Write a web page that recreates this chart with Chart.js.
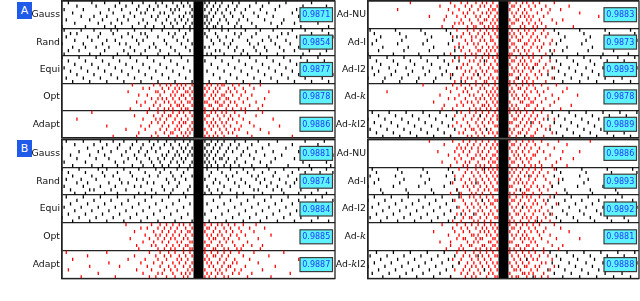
<!DOCTYPE html>
<html><head><meta charset="utf-8">
<script src="https://cdn.jsdelivr.net/npm/chart.js@4"></script>
<style>
html,body{margin:0;padding:0;background:#fff;width:640px;height:301px;overflow:hidden;position:relative}
.box{position:absolute}
.badge{position:absolute;width:15px;height:17px;background:#1f5ae8;color:#fff;font:11px "DejaVu Sans",sans-serif;text-align:center;line-height:17px;z-index:5}
</style></head><body>
<div class="box" style="left:0;top:0;width:336px;height:139px"><canvas id="aL"></canvas></div>
<div class="box" style="left:334px;top:0;width:306px;height:139px"><canvas id="aR"></canvas></div>
<div class="box" style="left:0;top:138px;width:336px;height:142px"><canvas id="bL"></canvas></div>
<div class="box" style="left:334px;top:138px;width:306px;height:142px"><canvas id="bR"></canvas></div>
<div class="badge" style="left:17px;top:2px">A</div>
<div class="badge" style="left:17px;top:140px">B</div>
<script>
// ---- labels and values ----
const leftLabels = ['Gauss','Rand','Equi','Opt','Adapt'];
const rightLabels = ['Ad-NU','Ad-I','Ad-I2','Ad-k','Ad-kI2'];
const valuesAL = ['0.9871','0.9854','0.9877','0.9878','0.9886'];
const valuesAR = ['0.9883','0.9873','0.9893','0.9878','0.9889'];
const valuesBL = ['0.9881','0.9874','0.9884','0.9885','0.9887'];
const valuesBR = ['0.9886','0.9893','0.9892','0.9881','0.9888'];
const FRAMES = 8;
const K_MIN = -64, K_MAX = 64;

// ---- sampled lines (k index) per frame ----
const A_gauss = [
[-61,-50,-44,-37,-31,-26,-20,-17,-12,-8,-5,3,5,8,11,16,19,27,33,41,53],
[-57,-48,-39,-34,-28,-23,-19,-15,-10,-7,-4,4,7,10,14,18,24,30,38,49,60],
[-63,-54,-42,-36,-29,-24,-21,-13,-11,-9,-3,3,6,9,13,17,22,29,36,46,57],
[-59,-46,-40,-32,-27,-25,-18,-16,-12,-6,-4,5,8,11,15,20,26,32,44,52],
[-55,-49,-43,-35,-30,-22,-19,-14,-9,-7,-3,3,4,7,12,16,21,28,35,47,62],
[-62,-51,-45,-38,-33,-26,-20,-15,-11,-8,-5,4,6,10,13,19,23,31,40,50,58],
[-58,-47,-41,-36,-28,-24,-17,-13,-10,-6,-3,3,5,9,14,18,25,34,39,45,56],
[-64,-53,-44,-39,-31,-25,-21,-16,-12,-7,-4,4,7,8,11,17,20,27,37,48,61]];
const A_rand = [
[-63,-55,-49,-41,-38,-30,-22,-17,-9,-4,5,11,14,22,29,35,44,50,58],
[-60,-57,-46,-40,-33,-27,-25,-14,-11,-6,3,8,17,20,27,39,42,53,61],
[-62,-52,-47,-36,-31,-24,-19,-12,-7,4,9,13,19,25,33,37,46,55,63],
[-58,-50,-43,-39,-29,-26,-16,-10,-5,6,10,16,23,30,34,41,48,56],
[-64,-54,-45,-37,-34,-28,-21,-15,-8,-3,7,12,15,24,28,36,43,51,59],
[-59,-53,-48,-42,-32,-23,-20,-13,-6,3,5,14,18,26,31,38,47,54,62],
[-61,-56,-44,-35,-30,-25,-18,-11,-4,8,10,17,21,27,32,40,45,52,60],
[-63,-51,-46,-38,-33,-27,-19,-14,-9,4,6,12,20,23,29,37,49,57]];
const A_equi = [
[-64,-56,-48,-40,-32,-24,-16,-8,8,16,24,32,40,48,56],
[-61,-53,-45,-37,-29,-21,-13,-5,3,11,19,27,35,43,51,59],
[-58,-50,-42,-34,-26,-18,-10,6,14,22,30,38,46,54,62],
[-63,-55,-47,-39,-31,-23,-15,-7,9,17,25,33,41,49,57],
[-60,-52,-44,-36,-28,-20,-12,-4,4,12,20,28,36,44,52,60],
[-57,-49,-41,-33,-25,-17,-9,7,15,23,31,39,47,55,63],
[-62,-54,-46,-38,-30,-22,-14,-6,10,18,26,34,42,50,58],
[-59,-51,-43,-35,-27,-19,-11,-3,5,13,21,29,37,45,53,61]];
const A_opt = [
[-31,-21,-18,-15,-13,-10,-8,-6,-3,4,6,9,11,12,16,19,24,29],
[-26,-23,-17,-14,-11,-9,-7,-4,3,5,8,10,14,17,21,26],
[-33,-20,-19,-16,-12,-10,-6,-5,-3,4,7,9,13,15,18,22,33],
[-28,-24,-18,-13,-11,-8,-7,-4,3,6,8,11,12,16,20,25],
[-22,-19,-17,-15,-12,-9,-6,-3,5,7,10,13,14,19,23,31],
[-29,-25,-20,-16,-14,-11,-8,-5,-4,3,4,8,9,12,15,17,21,27],
[-27,-21,-18,-13,-10,-9,-7,-3,5,6,10,11,14,18,24,30],
[-32,-23,-19,-16,-14,-12,-8,-6,-5,3,7,9,13,16,20,22,28]];
const A_adapt = [
[-50,-24,-19,-16,-12,-9,-7,-4,3,6,8,11,13,17,22,30],
[-30,-21,-17,-14,-13,-10,-6,-3,4,5,9,12,15,19,27],
[-57,-26,-20,-18,-15,-11,-8,-5,3,7,10,14,16,21,35],
[-22,-19,-16,-12,-9,-7,-6,-3,4,6,8,11,13,18,24],
[-43,-27,-23,-17,-14,-10,-8,-4,5,7,9,12,15,20,26,38],
[-34,-25,-18,-15,-11,-9,-5,-3,3,6,10,13,17,19,29],
[-28,-20,-16,-13,-12,-8,-6,-4,4,8,11,14,16,23,33],
[-40,-29,-22,-19,-14,-10,-7,-5,3,5,7,9,12,18,25,44]];

const A_adNU = [
[-44,-25,-20,-17,-13,-10,-8,-5,3,6,9,11,14,17,24],
[-30,-23,-18,-15,-11,-9,-6,-3,4,5,8,12,15,20,31],
[-50,-26,-21,-16,-12,-7,-5,-4,3,7,10,13,18,22,27],
[-24,-19,-17,-14,-10,-8,-6,-3,4,6,9,11,16,21,36],
[-35,-27,-22,-18,-13,-11,-7,-4,5,8,10,12,14,19,45],
[-28,-20,-16,-12,-9,-8,-5,-3,3,6,7,11,13,17,23,28],
[-23,-21,-19,-15,-11,-10,-6,-4,4,5,9,12,15,18,25],
[-29,-24,-17,-14,-13,-9,-7,-5,-3,3,8,10,14,16,20,33]];
const A_adI_black = [
[-63,-51,-39,-27,24,36,48,60],
[-61,-49,-37,-25,26,38,50,62],
[-58,-46,-34,-22,29,41,53],
[-60,-48,-36,-24,27,39,51,63],
[-62,-50,-38,-26,25,37,49,61],
[-57,-45,-33,-21,30,42,54],
[-59,-47,-35,-23,22,28,40,52],
[-64,-52,-40,-28,23,35,47,59]];
const A_adI_red = [
[-22,-17,-14,-11,-8,-5,-3,4,7,10,12,15,19],
[-19,-16,-12,-9,-7,-4,3,5,8,11,14,18,21],
[-24,-20,-15,-13,-10,-6,-3,4,6,9,13,16,20],
[-18,-15,-11,-9,-6,-5,3,7,8,12,15,17,23],
[-21,-17,-14,-12,-8,-4,4,5,10,11,14,19,22],
[-23,-19,-13,-10,-7,-5,-3,3,6,9,13,16,18],
[-20,-16,-12,-11,-8,-6,-4,5,7,10,12,17,24],
[-25,-18,-15,-13,-9,-7,-3,3,4,8,11,14,20]];
const A_adI2_black = [
[-63,-55,-47,-39,-31,-23,22,30,38,46,54,62],
[-60,-52,-44,-36,-28,-21,-9,25,33,41,49,57],
[-58,-50,-42,-34,-26,27,35,43,51,59],
[-62,-54,-46,-38,-30,-22,14,23,31,39,47,55,63],
[-59,-51,-43,-35,-27,26,34,42,50,58],
[-61,-53,-45,-37,-29,-24,-12,21,29,37,45,53,61],
[-64,-56,-48,-40,-32,-25,7,24,32,40,48,56],
[-57,-49,-41,-33,-20,28,36,44,52,60]];
const A_adI2_red = [
[-21,-18,-13,-10,-7,-5,-3,3,6,9,12,14,18],
[-24,-16,-14,-11,-8,-4,4,5,8,10,13,17,22],
[-19,-17,-12,-9,-6,-3,3,7,9,11,15,16,20],
[-22,-20,-15,-11,-7,-5,4,6,10,12,14,19,24],
[-18,-16,-13,-10,-8,-4,-3,5,7,9,13,17,21],
[-25,-19,-14,-12,-9,-6,3,4,8,11,15,18],
[-20,-17,-15,-11,-7,-5,-3,6,7,10,12,16,23],
[-23,-18,-13,-9,-8,-4,3,5,9,11,14,20]];
const A_adk = [
[-38,-24,-20,-16,-13,-10,-7,-4,3,6,9,12,14,18,25],
[-27,-22,-18,-15,-11,-9,-5,-3,4,7,8,11,15,21,30],
[-55,-25,-19,-17,-12,-8,-6,-4,3,5,10,13,16,19,28],
[-30,-21,-16,-14,-10,-7,-5,-3,4,6,9,11,17,23,35],
[-26,-23,-18,-13,-11,-9,-6,-4,5,7,10,12,15,20,26],
[-33,-20,-17,-15,-12,-8,-5,-3,3,8,9,13,14,18,24],
[-28,-22,-19,-14,-10,-9,-7,-4,4,6,11,12,16,22,32],
[-29,-24,-16,-13,-11,-8,-6,-3,3,5,7,10,15,19,27]];
const A_adkI2_black = [
[-62,-54,-46,-38,-30,-22,23,31,39,47,55,63],
[-59,-51,-43,-35,-27,-11,26,34,42,50,58],
[-64,-56,-48,-40,-32,-24,21,29,37,45,53,61],
[-61,-53,-45,-37,-29,13,24,32,40,48,56],
[-58,-50,-42,-34,-26,27,35,43,51,59],
[-63,-55,-47,-39,-31,-23,-8,22,30,38,46,54,62],
[-60,-52,-44,-36,-28,25,33,41,49,57],
[-57,-49,-41,-33,-25,10,28,36,44,52,60]];
const A_adkI2_red = [
[-20,-16,-13,-10,-7,-4,3,6,8,11,14,18],
[-23,-18,-14,-11,-8,-5,-3,4,7,10,13,16,21],
[-19,-15,-12,-9,-6,-3,5,6,9,12,15,19,24],
[-22,-17,-13,-10,-7,-5,3,4,8,11,14,17],
[-24,-20,-16,-12,-9,-4,-3,6,7,10,13,18,22],
[-18,-15,-14,-11,-8,-6,3,5,9,12,16,20],
[-21,-19,-13,-10,-7,-5,-3,4,7,8,11,15,23],
[-25,-17,-15,-12,-9,-4,3,6,10,13,14,19]];

const B_gauss = [
[-62,-54,-46,-40,-35,-29,-23,-19,-15,-11,-7,-4,3,6,9,12,17,22,28,37,50,59],
[-58,-49,-43,-37,-31,-26,-21,-16,-13,-9,-5,4,5,8,11,15,19,25,33,44,56],
[-64,-52,-45,-38,-32,-27,-22,-18,-12,-8,-6,-3,3,7,10,14,18,23,30,41,53,61],
[-56,-47,-41,-34,-28,-24,-20,-14,-10,-7,-4,4,6,9,13,16,21,27,35,47],
[-60,-51,-44,-36,-30,-25,-17,-15,-11,-9,-5,-3,3,5,8,12,20,24,31,39,55,63],
[-57,-48,-42,-33,-29,-23,-19,-16,-12,-8,-6,4,7,10,11,14,18,26,36,45,58],
[-63,-53,-39,-35,-27,-22,-18,-13,-10,-7,-3,3,5,8,13,17,22,29,34,49,60],
[-59,-50,-45,-38,-31,-26,-21,-17,-14,-9,-4,4,6,9,12,15,19,25,32,42,52,62]];
const B_rand = [
[-64,-56,-47,-43,-35,-28,-20,-16,-10,-5,4,9,15,21,26,33,40,47,53,60],
[-61,-53,-45,-38,-32,-25,-18,-13,-7,6,11,18,23,30,36,44,50,57,63],
[-59,-50,-44,-40,-31,-23,-19,-12,-8,-3,5,13,16,25,28,35,42,49,55],
[-62,-55,-48,-37,-29,-26,-15,-11,-6,3,8,14,20,27,31,38,46,52,61],
[-57,-52,-42,-36,-33,-24,-21,-14,-9,7,10,17,22,29,34,41,45,54,59],
[-63,-54,-46,-39,-30,-27,-17,-10,-4,4,12,19,24,32,37,43,51,58,62],
[-60,-51,-49,-41,-34,-22,-16,-12,-5,5,9,15,26,28,35,39,48,56],
[-58,-53,-44,-38,-28,-25,-20,-13,-7,3,6,11,18,21,30,40,47,53,60]];
const B_equi = [
[-62,-54,-46,-38,-30,-22,-14,-6,10,18,26,34,42,50,58],
[-57,-49,-41,-33,-25,-17,-9,7,15,23,31,39,47,55,63],
[-60,-52,-44,-36,-28,-20,-12,-4,4,12,20,28,36,44,52,60],
[-63,-55,-47,-39,-31,-23,-15,-7,9,17,25,33,41,49,57],
[-58,-50,-42,-34,-26,-18,-10,6,14,22,30,38,46,54,62],
[-61,-53,-45,-37,-29,-21,-13,-5,3,11,19,27,35,43,51,59],
[-64,-56,-48,-40,-32,-24,-16,-8,8,16,24,32,40,48,56],
[-59,-51,-43,-35,-27,-19,-11,-3,5,13,21,29,37,45,53,61]];
const B_opt = [
[-34,-22,-18,-15,-12,-9,-7,-4,3,6,9,11,14,17,21,27],
[-27,-24,-19,-16,-13,-10,-6,-3,4,5,8,12,15,19,24,31],
[-30,-21,-17,-14,-11,-8,-5,-4,3,7,10,13,16,20,26],
[-25,-20,-18,-15,-12,-9,-6,-3,4,6,9,11,15,18,22,34],
[-32,-23,-19,-16,-13,-11,-7,-5,5,7,8,12,14,19,28],
[-26,-21,-17,-14,-10,-8,-4,-3,3,6,10,13,16,23],
[-29,-22,-20,-15,-12,-9,-6,-5,4,5,9,11,17,21,25,30],
[-28,-19,-16,-13,-11,-7,-4,-3,3,7,8,12,14,18,20,29]];
const B_adapt = [
[-62,-43,-23,-18,-14,-11,-7,-4,3,6,9,12,15,19,26,40],
[-52,-30,-20,-16,-13,-9,-6,-3,4,7,8,11,14,21,33],
[-59,-33,-25,-19,-15,-10,-8,-5,3,5,10,13,17,24,47],
[-42,-27,-21,-17,-12,-9,-6,-3,4,6,9,12,16,18,28],
[-51,-37,-24,-18,-14,-11,-7,-4,5,7,11,14,15,22,36],
[-61,-29,-22,-16,-13,-10,-5,-3,3,8,10,13,17,20,30],
[-47,-26,-19,-17,-12,-8,-6,-4,4,6,9,11,16,19,25,43],
[-55,-39,-23,-20,-15,-11,-7,-5,3,5,8,12,14,23,34]];

const B_adNU = [
[-35,-24,-19,-16,-13,-10,-7,-4,3,6,9,12,14,18,26,41],
[-28,-21,-17,-14,-11,-8,-5,-3,4,5,8,11,15,21,30],
[-22,-20,-18,-15,-12,-9,-6,-4,3,7,10,13,17,24],
[-31,-23,-19,-16,-12,-10,-7,-3,4,6,9,12,16,19,28,36],
[-26,-21,-17,-13,-11,-8,-5,-4,5,7,10,14,15,22],
[-23,-20,-15,-14,-10,-9,-6,-3,3,6,8,11,13,20,27,33],
[-29,-22,-18,-16,-12,-7,-5,-4,4,5,9,12,17,25],
[-25,-19,-17,-13,-11,-9,-6,-3,3,7,10,13,15,18,23,30]];
const B_adI_black = [
[-62,-50,-38,-26,-9,25,37,49,61],
[-60,-48,-36,-24,27,39,51,63],
[-63,-51,-39,-27,12,24,36,48,60],
[-59,-47,-35,-23,28,40,52],
[-61,-49,-37,-25,-13,26,38,50,62],
[-64,-52,-40,-28,23,35,47,59],
[-58,-46,-34,-22,8,29,41,53],
[-57,-45,-33,-21,30,42,54]];
const B_adI_red = [
[-21,-17,-13,-10,-7,-5,-3,4,6,9,12,15,18,24],
[-18,-15,-12,-9,-6,-4,3,5,8,11,14,17,21],
[-23,-19,-14,-11,-8,-5,-3,4,7,10,13,16,19],
[-20,-16,-13,-10,-7,-4,3,6,8,12,15,20,26],
[-24,-18,-15,-12,-9,-6,-3,5,7,9,11,14,22],
[-19,-17,-14,-11,-8,-5,3,4,10,13,16,19,23],
[-22,-16,-12,-9,-7,-4,-3,6,8,11,12,17,21],
[-25,-20,-15,-13,-10,-6,3,5,9,10,14,18,25]];
const B_adI2_black = [
[-61,-53,-45,-37,-29,-21,24,32,40,48,56],
[-64,-56,-48,-40,-32,-24,-10,21,29,37,45,53,61],
[-59,-51,-43,-35,-27,26,34,42,50,58],
[-62,-54,-46,-38,-30,-22,9,23,31,39,47,55,63],
[-57,-49,-41,-33,-25,28,36,44,52,60],
[-60,-52,-44,-36,-28,-20,-14,22,30,38,46,54,62],
[-63,-55,-47,-39,-31,-23,25,33,41,49,57],
[-58,-50,-42,-34,-26,16,27,35,43,51,59]];
const B_adI2_red = [
[-20,-16,-14,-11,-8,-5,3,6,9,11,13,17,22],
[-23,-19,-13,-10,-7,-4,-3,4,5,8,12,15,19],
[-18,-15,-12,-9,-6,-5,3,7,10,14,16,20,25],
[-21,-17,-14,-11,-8,-4,4,6,9,11,13,18],
[-25,-19,-16,-12,-10,-6,-3,5,8,12,15,17,21],
[-22,-18,-13,-9,-7,-5,3,6,7,10,14,19,23],
[-19,-16,-15,-11,-8,-4,-3,4,9,11,13,16,20],
[-24,-20,-14,-12,-9,-6,3,5,8,12,15,18,22]];
const B_adk = [
[-29,-22,-18,-15,-12,-9,-6,-4,3,6,9,11,14,17,24],
[-24,-20,-17,-13,-10,-8,-5,-3,4,5,8,12,15,20,27],
[-33,-23,-19,-16,-11,-9,-7,-4,3,7,10,13,16,19,31],
[-26,-21,-15,-14,-12,-8,-6,-3,4,6,9,11,17,22],
[-22,-19,-18,-13,-11,-10,-5,-4,5,8,10,12,14,18,25,36],
[-30,-25,-17,-14,-12,-7,-6,-3,3,4,9,13,15,21],
[-25,-20,-16,-15,-10,-9,-5,-4,6,7,11,12,16,23,28],
[-27,-21,-19,-13,-11,-8,-6,-3,3,5,8,10,14,19,26]];
const B_adkI2_black = [
[-60,-52,-44,-36,-28,22,30,38,46,54,62],
[-63,-55,-47,-39,-31,-23,-12,25,33,41,49,57],
[-58,-50,-42,-34,-26,11,27,35,43,51,59],
[-61,-53,-45,-37,-29,-21,23,31,39,47,55,63],
[-64,-56,-48,-40,-32,-24,26,34,42,50,58],
[-59,-51,-43,-35,-27,-9,21,29,37,45,53,61],
[-62,-54,-46,-38,-30,24,32,40,48,56],
[-57,-49,-41,-33,-25,14,28,36,44,52,60]];
const B_adkI2_red = [
[-22,-18,-14,-11,-8,-5,3,6,9,12,15,19],
[-19,-16,-13,-10,-7,-4,-3,4,7,10,13,17,21],
[-24,-20,-15,-12,-9,-6,5,8,11,14,16,23],
[-21,-17,-14,-11,-8,-5,-3,3,6,9,12,18,20],
[-18,-15,-13,-10,-7,-4,4,7,10,11,15,17,24],
[-23,-19,-16,-12,-9,-6,-3,5,6,8,13,16,22],
[-20,-17,-14,-11,-7,-5,3,9,10,12,14,19],
[-25,-18,-15,-13,-8,-4,-3,4,6,7,11,15,18,21]];

const BLACK = '#000000', RED = '#ff0000';

function makeChart(id, labels, values, strips, yWidth, pad) {
  const datasets = [{
    type: 'line', data: [{x: 0, y: 0}, {x: 0, y: 5}],
    borderColor: '#000', borderWidth: 10, borderCapStyle: 'butt', pointRadius: 0, fill: false
  }];
  strips.forEach((layers, r) => {
    layers.forEach(([frames, color]) => {
      const pts = [];
      frames.forEach((ks, f) => ks.forEach(k => pts.push({x: k, y: r + (f + 0.5) / FRAMES})));
      datasets.push({
        type: 'scatter', data: pts, showLine: false,
        pointStyle: 'line', pointRotation: 90, pointRadius: 1.6,
        pointBorderWidth: 1.3, pointBorderColor: color, pointBackgroundColor: color,
        borderColor: color, backgroundColor: color
      });
    });
  });
  const deco = {
    id: 'deco_' + id,
    afterDraw(chart) {
      const ctx = chart.ctx, ys = chart.scales.y, a = chart.chartArea;
      ctx.save();
      ctx.strokeStyle = '#222'; ctx.lineWidth = 1.3;
      ctx.strokeRect(a.left, a.top, a.right - a.left, a.bottom - a.top);
      ctx.textBaseline = 'middle'; ctx.textAlign = 'left'; ctx.fillStyle = '#111';
      labels.forEach((lab, r) => {
        const y = ys.getPixelForValue(r + 0.5);
        const segs = [];
        let buf = '';
        for (const ch of lab) {
          if (ch === 'k') { if (buf) segs.push({t: buf, f: '9.3px "DejaVu Sans"'}); buf = ''; segs.push({t: 'k', f: 'italic 10px "DejaVu Serif"'}); }
          else buf += ch;
        }
        if (buf) segs.push({t: buf, f: '9.3px "DejaVu Sans"'});
        let tot = 0;
        segs.forEach(s => { ctx.font = s.f; tot += ctx.measureText(s.t).width; });
        let x = a.left - 2 - tot;
        segs.forEach(s => { ctx.font = s.f; ctx.fillText(s.t, x, y); x += ctx.measureText(s.t).width; });
      });
      values.forEach((v, r) => {
        const y = ys.getPixelForValue(r + 0.5);
        const bx = a.right - 35, bw = 32.5, bh = 14;
        ctx.fillStyle = '#5ef2ff';
        ctx.fillRect(bx, y - bh / 2, bw, bh);
        ctx.strokeStyle = '#3c3c3c'; ctx.lineWidth = 1.2;
        ctx.strokeRect(bx, y - bh / 2, bw, bh);
        ctx.fillStyle = '#1e40f0'; ctx.font = '8px "DejaVu Sans"'; ctx.textAlign = 'center';
        ctx.fillText(v, bx + bw / 2, y + 0.5);
        ctx.textAlign = 'left';
      });
      ctx.restore();
    }
  };
  return new Chart(document.getElementById(id), {
    type: 'scatter',
    data: {datasets},
    options: {
      responsive: true, maintainAspectRatio: false, animation: false, events: [],
      layout: {padding: pad, autoPadding: false},
      plugins: {legend: {display: false}, tooltip: {enabled: false}},
      scales: {
        x: {type: 'linear', min: K_MIN, max: K_MAX, display: false},
        y: {
          type: 'linear', min: 0, max: 5, reverse: true,
          afterBuildTicks: s => { s.ticks = [0, 1, 2, 3, 4, 5].map(v => ({value: v})); },
          afterFit: s => { s.width = yWidth; },
          ticks: {display: false, autoSkip: false},
          grid: {color: '#222', lineWidth: 1.3, drawTicks: false, tickLength: 0},
          border: {display: true, color: '#222', width: 1.3}
        }
      }
    },
    plugins: [deco]
  });
}

makeChart('aL', leftLabels, valuesAL,
  [[[A_gauss, BLACK]], [[A_rand, BLACK]], [[A_equi, BLACK]], [[A_opt, RED]], [[A_adapt, RED]]],
  62, {top: 1, bottom: 1, right: 1, left: 0});
makeChart('aR', rightLabels, valuesAR,
  [[[A_adNU, RED]], [[A_adI_black, BLACK], [A_adI_red, RED]], [[A_adI2_black, BLACK], [A_adI2_red, RED]],
   [[A_adk, RED]], [[A_adkI2_black, BLACK], [A_adkI2_red, RED]]],
  34, {top: 1, bottom: 1, right: 1, left: 0});
makeChart('bL', leftLabels, valuesBL,
  [[[B_gauss, BLACK]], [[B_rand, BLACK]], [[B_equi, BLACK]], [[B_opt, RED]], [[B_adapt, RED]]],
  62, {top: 1.5, bottom: 1.5, right: 1, left: 0});
makeChart('bR', rightLabels, valuesBR,
  [[[B_adNU, RED]], [[B_adI_black, BLACK], [B_adI_red, RED]], [[B_adI2_black, BLACK], [B_adI2_red, RED]],
   [[B_adk, RED]], [[B_adkI2_black, BLACK], [B_adkI2_red, RED]]],
  34, {top: 1.5, bottom: 1.5, right: 1, left: 0});
</script>
</body></html>
